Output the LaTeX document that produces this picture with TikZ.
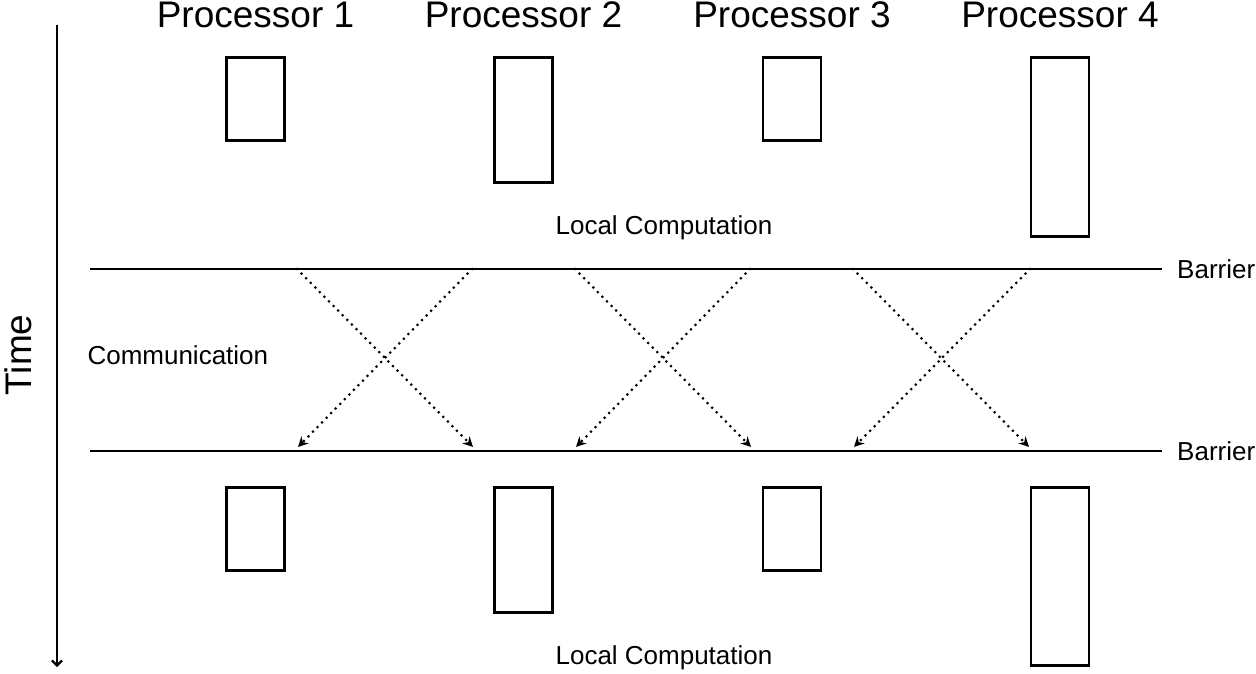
\documentclass[tikz,border=0pt]{standalone}
\usepackage{fontspec}
\setmainfont{Liberation Sans}
\usetikzlibrary{arrows.meta, positioning}

\begin{document}
\begin{tikzpicture}[x=1pt, y=-1pt,
      procbox/.style={rectangle, draw=black, line width=2.8pt, minimum width=58pt, inner sep=0pt, anchor=north},
      proclabel/.style={anchor=base, font=\fontsize{37}{40}\selectfont},
      smalllabel/.style={font=\fontsize{26}{30}\selectfont},
      barrierlabel/.style={smalllabel, anchor=west, inner xsep=15pt},
      barrierline/.style={line width=2.2pt},
      message/.style={line width=3pt, line cap=round, dash pattern=on 0pt off 6.5pt, -{Stealth[length=10pt, width=10pt]}},
      ]
      \useasboundingbox (0,0) rectangle (1256,674);
      %Nodes
      \node[proclabel] (p1) at (255.5,28) {Processor 1};
      \node[proclabel] (p2) at (523.5,28) {Processor 2};
      \node[proclabel] (p3) at (792,28)   {Processor 3};
      \node[proclabel] (p4) at (1060,28)  {Processor 4};

      \node[procbox, minimum height=83pt]  (top1) at (255.5,56) {};
      \node[procbox, minimum height=125pt] (top2) at (523.5,56) {};
      \node[procbox, minimum height=83pt]  (top3) at (792,56)   {};
      \node[procbox, minimum height=179pt] (top4) at (1060,56)  {};

      \node[procbox, minimum height=83pt]  (bot1) at (255.5,486) {};
      \node[procbox, minimum height=125pt] (bot2) at (523.5,486) {};
      \node[procbox, minimum height=83pt]  (bot3) at (792,486)   {};
      \node[procbox, minimum height=178pt] (bot4) at (1060,486)  {};

      \node[smalllabel] (localtop) at (664,228) {Local Computation};
      \node[smalllabel] (localbot) at (664,658) {Local Computation};
      \node[smalllabel, anchor=west] (comm) at (84,355) {Communication};
      \node[barrierlabel] (barrier1) at (1162,269) {Barrier};
      \node[barrierlabel] (barrier2) at (1162,451) {Barrier};
      \node[font=\fontsize{37}{40}\selectfont, rotate=90] (time) at (18,355) {Time};

      %Coordinates
      \coordinate (timestart) at (57,25);
      \coordinate (timeend)   at (57,667);
      \coordinate (bar1west) at (90,269);
      \coordinate (bar2west) at (90,451);
      \coordinate (s1) at (297,269);  \coordinate (e1) at (473,447);
      \coordinate (s2) at (472,269);  \coordinate (e2) at (298,447);
      \coordinate (s3) at (575,269);  \coordinate (e3) at (751,447);
      \coordinate (s4) at (750,269);  \coordinate (e4) at (576,447);
      \coordinate (s5) at (853,269);  \coordinate (e5) at (1029,447);
      \coordinate (s6) at (1030,269); \coordinate (e6) at (854,447);

      %Lines
      \draw[line width=2.2pt, -{Straight Barb[length=5pt, width=10pt]}] (timestart) -- (timeend);
      \draw[barrierline] (bar1west) -- (barrier1.west);
      \draw[barrierline] (bar2west) -- (barrier2.west);
      \draw[message] (s1) -- (e1);
      \draw[message] (s2) -- (e2);
      \draw[message] (s3) -- (e3);
      \draw[message] (s4) -- (e4);
      \draw[message] (s5) -- (e5);
      \draw[message] (s6) -- (e6);
    \end{tikzpicture}
\end{document}
